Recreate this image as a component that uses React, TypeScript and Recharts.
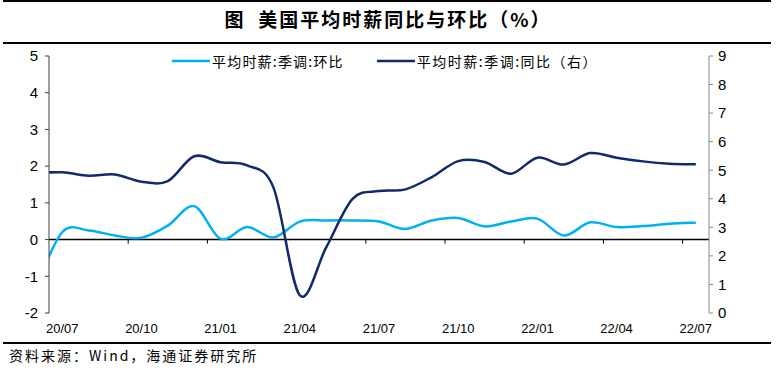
import { LineChart, Line, XAxis, YAxis, ReferenceLine } from 'recharts';

// monthly, seasonally adjusted; the first month sits left of the axis and is clipped
const months = [
  '20/06', '20/07', '20/08', '20/09', '20/10', '20/11', '20/12',
  '21/01', '21/02', '21/03', '21/04', '21/05', '21/06', '21/07', '21/08', '21/09', '21/10', '21/11', '21/12',
  '22/01', '22/02', '22/03', '22/04', '22/05', '22/06', '22/07',
];
const momChange = [
  -1.3, 0.2, 0.25, 0.11, 0.05, 0.38, 0.91,
  0.02, 0.34, 0.06, 0.49, 0.52, 0.52, 0.49, 0.29, 0.52, 0.59, 0.36, 0.49,
  0.57, 0.11, 0.47, 0.34, 0.37, 0.43, 0.46,
];
const yoyChange = [
  4.9, 4.93, 4.81, 4.85, 4.6, 4.62, 5.49,
  5.28, 5.17, 4.4, 0.62, 2.3, 4.0, 4.27, 4.33, 4.76, 5.32, 5.29, 4.88,
  5.44, 5.2, 5.6, 5.44, 5.31, 5.23, 5.21,
];
const tickLabels = ['20/07', '20/10', '21/01', '21/04', '21/07', '21/10', '22/01', '22/04', '22/07'];
const leftTicks = [-2, -1, 0, 1, 2, 3, 4, 5];
const rightTicks = [0, 1, 2, 3, 4, 5, 6, 7, 8, 9];

const MOM_NAME = '平均时薪:季调:环比';
const YOY_NAME = '平均时薪:季调:同比（右）';
const MOM_COLOR = '#00B0F0';
const YOY_COLOR = '#102A6B';
const LATIN = '"Liberation Sans", Arial, sans-serif';
const CJK = '"Noto Sans CJK SC", "Liberation Sans", sans-serif';

// Excel-style smoothed line (Catmull-Rom through every point)
const smoothCurve = (context: any) => {
  let pts: number[][] = [];
  return {
    areaStart() {},
    areaEnd() {},
    lineStart() {
      pts = [];
    },
    point(x: number, y: number) {
      pts.push([+x, +y]);
    },
    lineEnd() {
      if (!pts.length) return;
      context.moveTo(pts[0][0], pts[0][1]);
      for (let k = 0; k < pts.length - 1; k++) {
        const p0 = pts[k - 1] || pts[k];
        const p1 = pts[k];
        const p2 = pts[k + 1];
        const p3 = pts[k + 2] || p2;
        context.bezierCurveTo(
          p1[0] + (p2[0] - p0[0]) / 6,
          p1[1] + (p2[1] - p0[1]) / 6,
          p2[0] - (p3[0] - p1[0]) / 6,
          p2[1] - (p3[1] - p1[1]) / 6,
          p2[0],
          p2[1]
        );
      }
    },
  };
};

const tickIndex = tickLabels.map((l) => months.indexOf(l));
const tickMarks = tickIndex.slice(1).map((i) => i - 0.5);

const MonthTick = ({ x, payload }: any) => (
  <text x={x} y={328} textAnchor="middle" dominantBaseline="central" fontSize={13} fontFamily={LATIN} fill="#000">
    {months[payload.value]}
  </text>
);

const ChartLegend = () => (
  <div
    style={{
      position: 'absolute', left: 172, top: 51, height: 20, display: 'flex', alignItems: 'center',
      fontFamily: CJK, fontSize: 14, color: '#000',
    }}
  >
    <svg width={40} height={4}>
      <line x1={0} y1={2} x2={38} y2={2} stroke={MOM_COLOR} strokeWidth={2.5} />
    </svg>
    <span style={{ letterSpacing: 1.2 }}>{MOM_NAME}</span>
    <svg width={40} height={4} style={{ marginLeft: 33 }}>
      <line x1={0} y1={2} x2={38} y2={2} stroke={YOY_COLOR} strokeWidth={2.5} />
    </svg>
    <span style={{ letterSpacing: 1.5 }}>{YOY_NAME}</span>
  </div>
);

export default function App() {
  const data = months.map((m, i) => ({ i, month: m, mom: momChange[i], yoy: yoyChange[i] }));

  return (
    <div style={{ position: 'relative', width: 776, height: 370, background: '#fff' }}>
      <style>{'body{margin:0}'}</style>
      <div style={{ position: 'absolute', left: 3, top: 0, width: 768, height: 2, background: '#000' }} />
      <div
        style={{
          position: 'absolute', left: 0, top: 5, width: 776, textAlign: 'center',
          fontFamily: CJK, fontSize: 19, fontWeight: 700, lineHeight: '28px', letterSpacing: 2, color: '#000',
        }}
      >
        图&nbsp;&nbsp;美国平均时薪同比与环比（%）
      </div>
      <div style={{ position: 'absolute', left: 3, top: 42, width: 768, height: 2, background: '#000' }} />

      <LineChart
        width={776}
        height={370}
        data={data}
        margin={{ top: 56, right: 0, bottom: 27, left: 0 }}
        style={{ position: 'absolute', left: 0, top: 0 }}
      >
        <XAxis
          dataKey="i"
          type="number"
          domain={[0.5, 25.5]}
          allowDataOverflow
          ticks={tickIndex}
          tick={<MonthTick />}
          tickLine={false}
          axisLine={false}
          height={30}
          interval={0}
        />
        <YAxis
          yAxisId="left"
          domain={[-2, 5]}
          ticks={leftTicks}
          width={49}
          tickSize={4}
          tickMargin={7}
          interval={0}
          stroke="#404040"
          tick={{ fill: '#000', fontSize: 15, fontFamily: LATIN }}
        />
        <YAxis
          yAxisId="right"
          orientation="right"
          domain={[0, 9]}
          ticks={rightTicks}
          width={67}
          tickSize={4}
          tickMargin={5}
          interval={0}
          stroke="#8c8c8c"
          tick={{ fill: '#000', fontSize: 15, fontFamily: LATIN }}
        />
        <ReferenceLine yAxisId="left" y={0} stroke="#000" strokeWidth={1.5} />
        {tickMarks.map((t) => (
          <ReferenceLine
            key={t}
            yAxisId="left"
            segment={[{ x: t, y: 0 }, { x: t, y: -0.11 }]}
            stroke="#000"
            strokeWidth={1}
          />
        ))}
        <Line
          yAxisId="left"
          dataKey="mom"
          name={MOM_NAME}
          type={smoothCurve as any}
          stroke={MOM_COLOR}
          strokeWidth={2.5}
          dot={false}
          activeDot={false}
          isAnimationActive={false}
        />
        <Line
          yAxisId="right"
          dataKey="yoy"
          name={YOY_NAME}
          type={smoothCurve as any}
          stroke={YOY_COLOR}
          strokeWidth={2.5}
          dot={false}
          activeDot={false}
          isAnimationActive={false}
        />
      </LineChart>

      <ChartLegend />
      <div style={{ position: 'absolute', left: 3, top: 342, width: 768, height: 2, background: '#000' }} />
      <div
        style={{
          position: 'absolute', left: 9, top: 346, fontFamily: CJK, fontSize: 14, lineHeight: '18px',
          letterSpacing: 2, color: '#000',
        }}
      >
        资料来源：Wind，海通证券研究所
      </div>
    </div>
  );
}
